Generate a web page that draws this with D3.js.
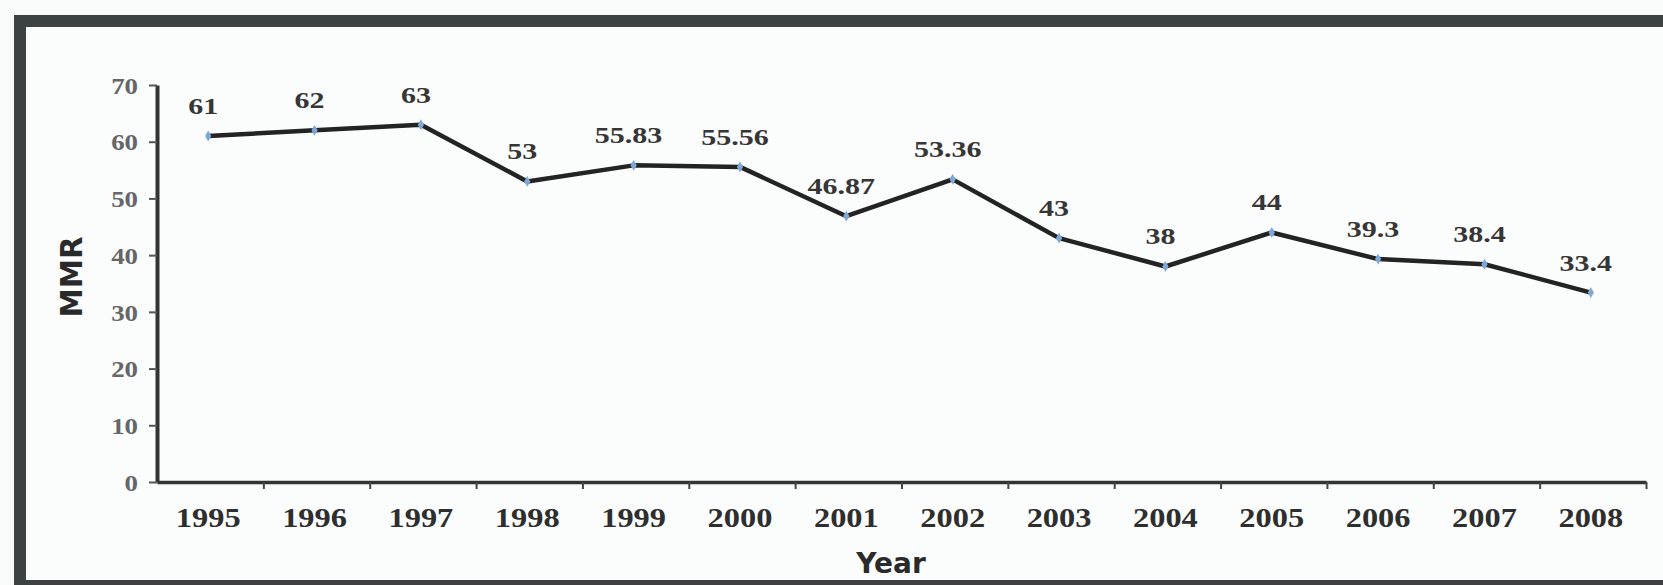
<!DOCTYPE html>
<html>
<head>
<meta charset="utf-8">
<script src="https://cdn.jsdelivr.net/npm/d3@7"></script>
<style>
  html, body { margin: 0; padding: 0; background: #f8f9f9; }
  svg { display: block; }
</style>
</head>
<body>
<svg id="chart" width="1663" height="585"></svg>
<script>
// Maternal mortality ratio by year
const years = ["1995","1996","1997","1998","1999","2000","2001","2002","2003","2004","2005","2006","2007","2008"];
const mmr = [61, 62, 63, 53, 55.83, 55.56, 46.87, 53.36, 43, 38, 44, 39.3, 38.4, 33.4];
const mmrLabels = ["61","62","63","53","55.83","55.56","46.87","53.36","43","38","44","39.3","38.4","33.4"];
const yTicks = [0, 10, 20, 30, 40, 50, 60, 70];

const svg = d3.select("#chart");
const W = 1663, H = 585;
const plot = { left: 157, right: 1646, top: 85, bottom: 482 };

// framed panel
svg.append("rect").attr("x", 0).attr("y", 0).attr("width", W).attr("height", H).attr("fill", "#f9fafa");
svg.append("rect")
  .attr("x", 20).attr("y", 21).attr("width", W + 40).attr("height", 565)
  .attr("fill", "#fbfcfc").attr("stroke", "#3b4241").attr("stroke-width", 12);

const x = d3.scaleBand().domain(years).range([plot.left, plot.right]).padding(0);
const xBounds = d3.scaleLinear().domain([0, years.length]).range([plot.left, plot.right]);
const y = d3.scaleLinear().domain([0, 70]).range([plot.bottom, plot.top]);
const cx = d => x(d) + x.bandwidth() / 2 - 2;

const serif = "'Liberation Serif', 'Times New Roman', serif";
const sans = "'DejaVu Sans', Verdana, sans-serif";

// y axis
const ySX = 1.12;
const yAxis = svg.append("g")
  .attr("transform", `translate(${plot.left},0)`)
  .call(d3.axisLeft(y).tickValues(yTicks).tickSize(8).tickSizeOuter(0));
yAxis.select(".domain").attr("stroke", "#333").attr("stroke-width", 4);
yAxis.selectAll(".tick line").attr("stroke", "#555").attr("stroke-width", 2);
yAxis.selectAll(".tick text")
  .attr("x", -19 / ySX).attr("dy", "0.34em")
  .attr("transform", `scale(${ySX},1)`)
  .attr("font-family", serif).attr("font-weight", "bold")
  .attr("font-size", 24).attr("fill", "#666");

// x axis: labels centred in each year band, ticks on band boundaries
const xSX = 1.2;
const xAxis = svg.append("g")
  .attr("transform", `translate(0,${plot.bottom})`)
  .call(d3.axisBottom(x).tickSize(0).tickSizeOuter(0));
xAxis.select(".domain").attr("stroke", "#333").attr("stroke-width", 3.5);
xAxis.selectAll(".tick text")
  .attr("y", 45).attr("dy", 0)
  .attr("x", -2 / xSX)
  .attr("transform", `scale(${xSX},1)`)
  .attr("font-family", serif).attr("font-weight", "bold")
  .attr("font-size", 27).attr("fill", "#2e2e2e");

const boundaryTicks = svg.append("g")
  .attr("transform", `translate(0,${plot.bottom})`)
  .call(d3.axisBottom(xBounds).tickValues(d3.range(1, years.length + 1)).tickFormat("").tickSize(7).tickSizeOuter(0));
boundaryTicks.select(".domain").remove();
boundaryTicks.selectAll(".tick line").attr("stroke", "#444").attr("stroke-width", 2);

// axis titles
svg.append("text")
  .attr("x", 891).attr("y", 573)
  .attr("text-anchor", "middle")
  .attr("font-family", sans).attr("font-weight", "bold")
  .attr("font-size", 28).attr("fill", "#2a2a2a")
  .text("Year");

svg.append("text")
  .attr("transform", "translate(82,277) rotate(-90)")
  .attr("text-anchor", "middle")
  .attr("font-family", sans).attr("font-weight", "bold")
  .attr("font-size", 31).attr("fill", "#2a2a2a")
  .attr("textLength", 81).attr("lengthAdjust", "spacingAndGlyphs")
  .text("MMR");

// series line
const pts = years.map((yr, i) => ({ yr, v: mmr[i], label: mmrLabels[i] }));
svg.append("path")
  .datum(pts)
  .attr("fill", "none")
  .attr("stroke", "#232323")
  .attr("stroke-width", 4.5)
  .attr("stroke-linejoin", "round")
  .attr("d", d3.line().x(d => cx(d.yr)).y(d => y(d.v)));

// point markers
svg.append("g").selectAll("path")
  .data(pts).join("path")
  .attr("transform", d => `translate(${cx(d.yr)},${y(d.v)})`)
  .attr("d", d3.symbol(d3.symbolDiamond, 34))
  .attr("fill", "#7ea8d8");

// value labels
const lSX = 1.25;
svg.append("g").selectAll("g")
  .data(pts).join("g")
  .attr("transform", d => `translate(${cx(d.yr) - 5},${y(d.v) - 22})`)
  .append("text")
  .attr("transform", `scale(${lSX},1)`)
  .attr("text-anchor", "middle")
  .attr("font-family", serif).attr("font-weight", "bold")
  .attr("font-size", 24).attr("fill", "#363636")
  .text(d => d.label);
</script>
</body>
</html>
